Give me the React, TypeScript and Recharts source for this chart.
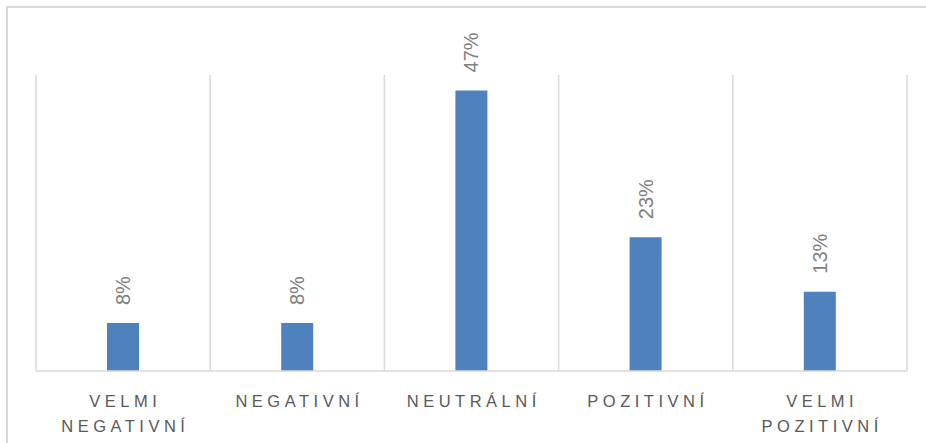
import React from 'react';
import { BarChart, Bar, XAxis, YAxis, CartesianGrid, LabelList } from 'recharts';

const categories = ['VELMI NEGATIVNÍ', 'NEGATIVNÍ', 'NEUTRÁLNÍ', 'POZITIVNÍ', 'VELMI POZITIVNÍ'];
const shares = [8.1, 8.1, 47.4, 22.6, 13.4];
const yDomain = [0, 50];

const data = categories.map((name, i) => ({ name, value: shares[i] }));

const GRID = '#d9d9d9';
const SPACING = 4.5;

const CategoryTick = (props: any) => {
  const { x, y, payload } = props;
  const words = String(payload.value).split(' ');
  return (
    <text
      x={x}
      y={y}
      textAnchor="middle"
      fill="#595959"
      fontSize={16.5}
      fontFamily="'Liberation Sans', Arial, sans-serif"
      letterSpacing={SPACING}
    >
      {words.map((w, i) => (
        <tspan key={i} x={x + SPACING / 2} dy={i === 0 ? 28 : 24.5}>
          {w}
        </tspan>
      ))}
    </text>
  );
};

const ValueLabel = (props: any) => {
  const { x, y, width, value } = props;
  const cx = x + width / 2;
  const cy = y - 18;
  return (
    <text
      x={cx}
      y={cy}
      transform={`rotate(-90 ${cx} ${cy})`}
      textAnchor="start"
      dominantBaseline="central"
      fill="#808080"
      fontSize={20}
      fontFamily="'Liberation Sans', Arial, sans-serif"
    >
      {`${Math.round(value)}%`}
    </text>
  );
};

export default function App() {
  return (
    <div style={{ position: 'absolute', left: 0, top: 0, width: 926, height: 443, overflow: 'hidden', background: '#fff' }}>
      <div
        style={{
          position: 'absolute',
          left: 6,
          top: 6,
          width: 960,
          height: 480,
          border: `2px solid ${GRID}`,
          boxSizing: 'border-box',
        }}
      />
      <div style={{ position: 'absolute', left: 0, top: 0 }}>
        <BarChart
          width={926}
          height={443}
          data={data}
          margin={{ top: 75, right: 19, bottom: 0, left: 36 }}
        >
          <CartesianGrid
            horizontal={false}
            stroke={GRID}
            strokeWidth={1.5}
            verticalCoordinatesGenerator={({ offset }: any) =>
              Array.from({ length: categories.length + 1 }, (_, i) => offset.left + (i * offset.width) / categories.length)
            }
          />
          <XAxis
            dataKey="name"
            axisLine={{ stroke: GRID, strokeWidth: 1.5 }}
            tickLine={false}
            interval={0}
            height={72}
            tick={<CategoryTick />}
          />
          <YAxis hide domain={yDomain} />
          <Bar dataKey="value" fill="#4f81bd" barSize={32} isAnimationActive={false}>
            <LabelList dataKey="value" content={<ValueLabel />} />
          </Bar>
        </BarChart>
      </div>
    </div>
  );
}
